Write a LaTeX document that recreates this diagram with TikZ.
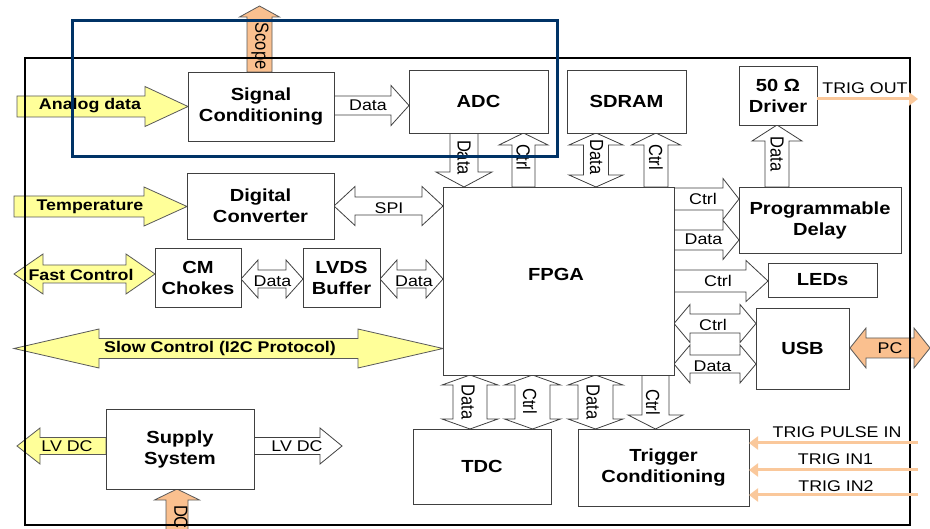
\documentclass[tikz,border=0pt]{standalone}
\usepackage{fontspec}
\setmainfont[FakeStretch=1.15]{Liberation Sans}
\newfontfamily\rotf{Liberation Sans}
\usetikzlibrary{arrows.meta}
\definecolor{ylw}{RGB}{255,255,153}
\definecolor{peach}{RGB}{250,192,143}
\definecolor{trigc}{RGB}{250,200,155}
\definecolor{navy}{RGB}{0,51,102}
% horizontal single arrow: x1 x2 yc shaft-half head-half head-length style
\newcommand\harr[7]{\draw[#7] (#1,{#3-#4}) -- ({#2-(#6)},{#3-#4}) -- ({#2-(#6)},{#3-#5}) -- (#2,#3) -- ({#2-(#6)},{#3+#5}) -- ({#2-(#6)},{#3+#4}) -- (#1,{#3+#4}) -- cycle;}
% horizontal double arrow
\newcommand\hdarr[7]{\draw[#7] (#1,#3) -- ({#1+#6},{#3-#5}) -- ({#1+#6},{#3-#4}) -- ({#2-#6},{#3-#4}) -- ({#2-#6},{#3-#5}) -- (#2,#3) -- ({#2-#6},{#3+#5}) -- ({#2-#6},{#3+#4}) -- ({#1+#6},{#3+#4}) -- ({#1+#6},{#3+#5}) -- cycle;}
% vertical single arrow: y1 y2 xc shaft-half head-half head-length style
\newcommand\varr[7]{\draw[#7] ({#3-#4},#1) -- ({#3-#4},{#2-(#6)}) -- ({#3-#5},{#2-(#6)}) -- (#3,#2) -- ({#3+#5},{#2-(#6)}) -- ({#3+#4},{#2-(#6)}) -- ({#3+#4},#1) -- cycle;}
% vertical double arrow
\newcommand\vdarr[7]{\draw[#7] (#3,#1) -- ({#3-#5},{#1+#6}) -- ({#3-#4},{#1+#6}) -- ({#3-#4},{#2-#6}) -- ({#3-#5},{#2-#6}) -- (#3,#2) -- ({#3+#5},{#2-#6}) -- ({#3+#4},{#2-#6}) -- ({#3+#4},{#1+#6}) -- ({#3+#5},{#1+#6}) -- cycle;}
% box node: name x1 y1 x2 y2 text
\newcommand\bx[6]{\node[blk, minimum width={(#4)-(#2)}, minimum height={(#5)-(#3)}] (#1) at ({((#2)+(#4))/2},{((#3)+(#5))/2}) {#6};}
\tikzset{
 blk/.style={draw=black!75, line width=0.9pt, fill=white, inner sep=0pt, outer sep=0pt, align=center, font=\bfseries\fontsize{17.5}{21}\selectfont},
 warr/.style={draw=black!75, line width=0.8pt, fill=white, line join=miter},
 yarr/.style={draw=black!65, line width=0.8pt, fill=ylw},
 parr/.style={draw=black!65, line width=0.8pt, fill=peach},
 lbl/.style={inner sep=0pt, font=\fontsize{15.5}{18}\selectfont},
 ylbl/.style={inner sep=0pt, font=\bfseries\fontsize{15.5}{18}\selectfont},
 rlbl/.style={inner sep=0pt, rotate=-90, yscale=1.15, font=\rotf\fontsize{16.5}{18}\selectfont},
 trig/.style={draw=trigc, line width=3pt, -{Triangle[length=9pt,width=13pt]}},
}
\begin{document}
\begin{tikzpicture}[x=1pt,y=-1pt]
\useasboundingbox (0,0) rectangle (930,529);
\clip (0,0) rectangle (930,529);
\fill[white] (0,0) rectangle (930,529);

% ---- block arrows ----
\varr{72}{6}{259.5}{12.5}{20}{-11}{parr}
\harr{17}{188}{106.5}{10.5}{20}{43}{yarr}
\harr{334}{409}{105.5}{9.5}{20}{18}{warr}
\harr{14}{187}{206.5}{10.5}{19.5}{43}{yarr}
\hdarr{334}{443}{206}{9}{19.5}{21}{warr}
\hdarr{14}{155}{274}{9}{20}{29}{yarr}
\hdarr{241}{303}{279}{9}{19}{17}{warr}
\hdarr{380}{443}{279}{9}{19}{17}{warr}
\hdarr{14}{443}{348.5}{10}{19.5}{85}{yarr}
\harr{106}{17}{446}{8.5}{18}{-23}{yarr}
\harr{254}{342}{446}{8.5}{18}{22}{warr}
\varr{540}{489}{177}{11}{22.5}{-11}{parr}
% top of FPGA
\varr{133}{187}{464}{14}{28}{15}{warr}
\varr{187}{133}{523.5}{11.5}{24.5}{-12}{warr}
\vdarr{133}{187}{596}{12.5}{27}{12}{warr}
\varr{187}{133}{656}{12}{24.5}{-12}{warr}
\varr{187}{125}{777}{12}{25}{-16}{warr}
% right of FPGA
\harr{674}{739}{199}{11}{20.5}{16}{warr}
\harr{674}{739}{240}{10}{19.5}{16}{warr}
\harr{674}{768}{281}{11}{20.5}{22}{warr}
\hdarr{674}{756}{323.5}{9.5}{19}{16}{warr}
\hdarr{674}{756}{364}{9}{19}{16}{warr}
\hdarr{850}{930}{348}{10}{20}{16}{parr}
% bottom of FPGA
\vdarr{375}{429}{470}{17}{28}{10}{warr}
\vdarr{375}{429}{532.5}{17.5}{28}{10}{warr}
\vdarr{375}{429}{595.5}{17.5}{27.5}{10}{warr}
\varr{375}{429}{655.5}{13.5}{27.5}{14}{warr}

% ---- boxes ----
\bx{sc}{188}{72}{334}{141}{Signal\\Conditioning}
\bx{adc}{409}{70}{548}{133}{ADC}
\bx{sdram}{567}{70}{686}{133}{SDRAM}
\bx{drv}{739}{66}{817}{125}{50 Ω\\Driver}
\bx{dconv}{187}{173}{334}{239}{Digital\\Converter}
\bx{fpga}{443}{187}{674}{375}{}
\bx{cm}{155}{248}{241}{307}{CM\\Chokes}
\bx{lvds}{303}{248}{380}{307}{LVDS\\Buffer}
\bx{pd}{739}{187}{901}{253}{Programmable\\Delay}
\bx{leds}{768}{263}{877}{297}{LEDs}
\bx{usb}{756}{308}{849}{389}{USB}
\bx{sup}{106}{409}{254}{489}{\fontsize{17.5}{31}\selectfont Supply\\System}
\bx{tdc}{413}{429}{551}{504}{TDC}
\bx{tc}{578}{429}{749}{506}{Trigger\\Conditioning}
\node[blk, draw=none, fill=none] (fpgalbl) at (556,274) {FPGA};

% ---- arrow labels ----
\node[rlbl] (lscope) at (260,46) {Scope};
\node[ylbl] (lanalog) at (90,106) {Analog data};
\node[lbl] (ldata1) at (368,105.5) {Data};
\node[ylbl] (ltemp) at (90,207) {Temperature};
\node[lbl] (lspi) at (389,208) {SPI};
\node[ylbl] (lfast) at (81,275) {Fast Control};
\node[lbl] (ldata2) at (272.5,281) {Data};
\node[lbl] (ldata3) at (414,281) {Data};
\node[ylbl] (lslow) at (220,348.5) {Slow Control (I2C Protocol)};
\node[lbl] (llv1) at (67,446) {LV DC};
\node[lbl] (llv2) at (297,446) {LV DC};
\node[rlbl] (ldc) at (181,517) {DC};
\node[rlbl] (ladcd) at (464,157.5) {Data};
\node[rlbl] (ladcc) at (523.5,157.5) {Ctrl};
\node[rlbl] (lsdd) at (596.5,157) {Data};
\node[rlbl] (lsdc) at (656,157) {Ctrl};
\node[rlbl] (ldrvd) at (777,154) {Data};
\node[lbl] (lpdc) at (703,199) {Ctrl};
\node[lbl] (lpdd) at (703.5,239.5) {Data};
\node[lbl] (lledc) at (718,281) {Ctrl};
\node[lbl] (lusbc) at (713,325) {Ctrl};
\node[lbl] (lusbd) at (712.5,366) {Data};
\node[lbl] (lpc) at (890,348) {PC};
\node[rlbl] (lb1) at (468,402) {Data};
\node[rlbl] (lb2) at (530,401) {Ctrl};
\node[rlbl] (lb3) at (593,402) {Data};
\node[rlbl] (lb4) at (653,402) {Ctrl};

% ---- outer frame ----
\draw[line width=2.5pt] (25,58) rectangle (910,525);

% ---- trigger lines ----
\coordinate (tout) at (918,99);
\coordinate (tpin) at (918,443);
\coordinate (tin1) at (918,470);
\coordinate (tin2) at (918,495);
\draw[trig] (drv.east |- tout) -- (tout);
\draw[trig] (tpin) -- (tc.east |- tpin);
\draw[trig] (tin1) -- (tc.east |- tin1);
\draw[trig] (tin2) -- (tc.east |- tin2);
\node[lbl] (ltout) at (865,88) {TRIG OUT};
\node[lbl] (ltpin) at (837,432.5) {TRIG PULSE IN};
\node[lbl] (ltin1) at (835.5,459) {TRIG IN1};
\node[lbl] (ltin2) at (836,486) {TRIG IN2};

% ---- highlight frame ----
\draw[navy, line width=3pt] (72,21) rectangle (557,157);
\end{tikzpicture}
\end{document}
